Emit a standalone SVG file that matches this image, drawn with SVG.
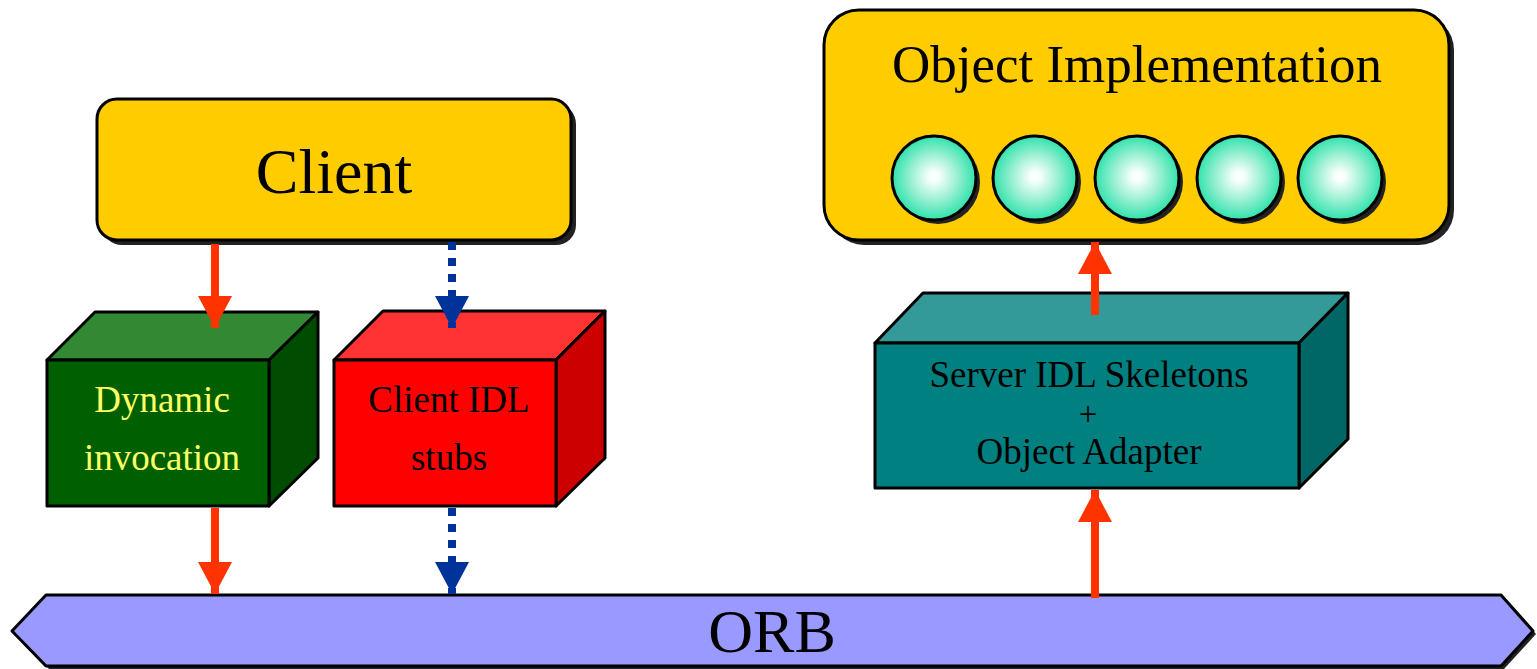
<svg xmlns="http://www.w3.org/2000/svg" width="1537" height="669" viewBox="0 0 1537 669">
<defs>
<radialGradient id="ball" cx="0.5" cy="0.5" r="0.5" fx="0.5" fy="0.48">
<stop offset="0" stop-color="#ffffff"/>
<stop offset="0.12" stop-color="#f6fffb"/>
<stop offset="0.55" stop-color="#9af0d2"/>
<stop offset="1" stop-color="#2fe2ad"/>
</radialGradient>
<marker id="redHead" markerUnits="userSpaceOnUse" markerWidth="36" markerHeight="34" refX="34" refY="18" orient="auto" viewBox="0 0 36 36">
<path d="M0,0 L34,18 L0,36 Z" fill="#ff3300"/>
</marker>
<marker id="blueHead" markerUnits="userSpaceOnUse" markerWidth="36" markerHeight="34" refX="34" refY="18" orient="auto" viewBox="0 0 36 36">
<path d="M0,0 L34,18 L0,36 Z" fill="#003399"/>
</marker>
</defs>
<style>
.lbl{font-family:"Liberation Serif","Times New Roman",serif;text-anchor:middle}
.box{font-size:37px}
.edge{stroke:#000;stroke-width:3;stroke-linejoin:round}
.shadow{fill:#222}
.red{stroke:#ff3300;stroke-width:8;fill:none}
.blue{stroke:#003399;stroke-width:8;fill:none;stroke-dasharray:8 8}
</style>
<rect width="1537" height="669" fill="#ffffff"/>

<g id="orb">
<polygon class="shadow" points="49,598 1504,598 1536,634 1504,669 49,669 15,634"/>
<polygon points="46,595 1501,595 1533,631 1501,666 46,666 12,631" fill="#9999ff" class="edge"/>
<text class="lbl" x="772" y="652" font-size="62">ORB</text>
</g>

<g id="client">
<rect x="102" y="104" width="474" height="141" rx="20" class="shadow"/>
<rect x="97" y="99" width="474" height="141" rx="20" fill="#ffcc00" class="edge"/>
<text class="lbl" x="334" y="193" font-size="64">Client</text>
</g>

<g id="object-implementation">
<rect x="829" y="15" width="625" height="230" rx="35" class="shadow"/>
<rect x="824" y="10" width="625" height="230" rx="35" fill="#ffcc00" class="edge"/>
<text class="lbl" x="1137" y="82" font-size="53">Object Implementation</text>
<g>
<circle cx="938" cy="182" r="42" class="shadow"/>
<circle cx="934" cy="178" r="42" fill="url(#ball)" class="edge"/>
<circle cx="1039" cy="182" r="42" class="shadow"/>
<circle cx="1035" cy="178" r="42" fill="url(#ball)" class="edge"/>
<circle cx="1141" cy="182" r="42" class="shadow"/>
<circle cx="1137" cy="178" r="42" fill="url(#ball)" class="edge"/>
<circle cx="1243" cy="182" r="42" class="shadow"/>
<circle cx="1239" cy="178" r="42" fill="url(#ball)" class="edge"/>
<circle cx="1344" cy="182" r="42" class="shadow"/>
<circle cx="1340" cy="178" r="42" fill="url(#ball)" class="edge"/>
</g>
</g>

<g id="dynamic-invocation">
<polygon points="47,360 95,312 318,312 269,360" fill="#338833" class="edge"/>
<polygon points="269,360 318,312 318,458 269,506" fill="#004c00" class="edge"/>
<rect x="47" y="360" width="222" height="146" fill="#006000" class="edge"/>
<text class="lbl box" x="162" y="412" fill="#ffff66">Dynamic</text>
<text class="lbl box" x="162" y="470" fill="#ffff66">invocation</text>
</g>

<g id="client-idl-stubs">
<polygon points="334,360 383,311 605,311 556,360" fill="#ff3333" class="edge"/>
<polygon points="556,360 605,311 605,458 556,506" fill="#cc0000" class="edge"/>
<rect x="334" y="360" width="222" height="146" fill="#ff0000" class="edge"/>
<text class="lbl box" x="449" y="412">Client IDL</text>
<text class="lbl box" x="449" y="470">stubs</text>
</g>

<g id="server-idl-skeletons">
<polygon points="875,343 923,293 1348,293 1299,343" fill="#339999" class="edge"/>
<polygon points="1299,343 1348,293 1348,439 1299,488" fill="#006666" class="edge"/>
<rect x="875" y="343" width="424" height="145" fill="#008080" class="edge"/>
<text class="lbl box" x="1089" y="387">Server IDL Skeletons</text>
<text class="lbl" x="1088" y="425" font-size="33">+</text>
<text class="lbl box" x="1089" y="464">Object Adapter</text>
</g>

<g id="connectors">
<path class="red" d="M215,244 L215,328" marker-end="url(#redHead)"/>
<path class="red" d="M215,508 L215,594" marker-end="url(#redHead)"/>
<path class="blue" d="M452,242 L452,328" marker-end="url(#blueHead)"/>
<path class="blue" d="M452,508 L452,594" marker-end="url(#blueHead)"/>
<path class="red" d="M1095,598 L1095,490" marker-end="url(#redHead)"/>
<path class="red" d="M1095,315 L1095,242" marker-end="url(#redHead)"/>
</g>
</svg>
